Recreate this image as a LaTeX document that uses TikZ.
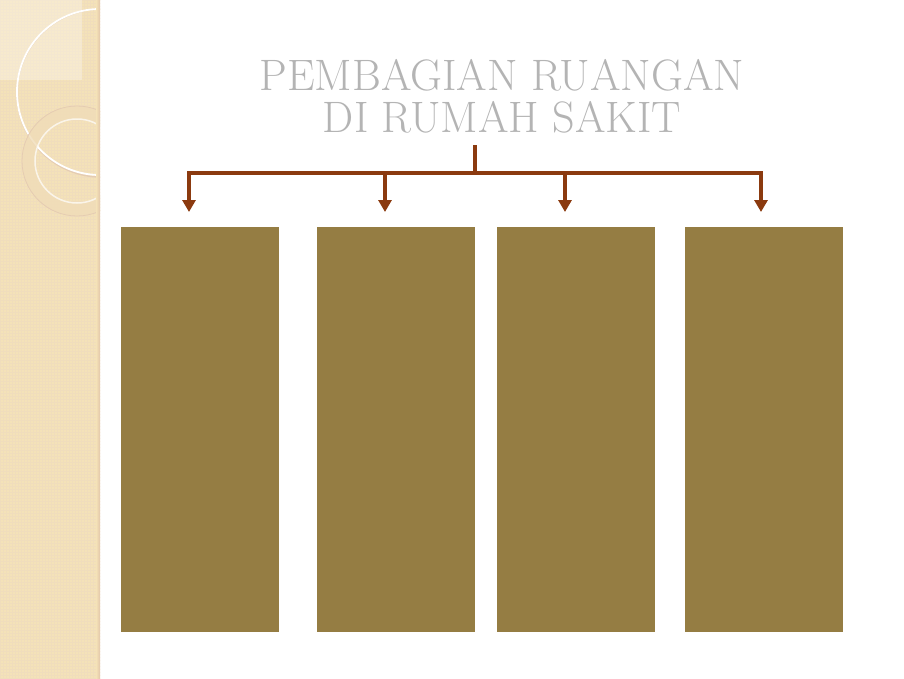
\documentclass[tikz,border=0pt]{standalone}
\usetikzlibrary{arrows.meta,positioning,patterns}
\definecolor{kotak}{HTML}{957D43}
\definecolor{panah}{HTML}{8B3A0F}
\definecolor{pita}{HTML}{F4E2B8}
\definecolor{abu}{HTML}{B4B4B4}

\begin{document}
\begin{tikzpicture}[x=1pt,y=-1pt,
  ruang/.style={fill=kotak, minimum width=158pt, minimum height=405pt, inner sep=0pt, anchor=north west},
  garis/.style={draw=panah, line width=3.4pt},
  ujungpanah/.style={-{Triangle[length=12pt,width=13pt]}}]
  \useasboundingbox (0,0) rectangle (904,678);
  \fill[white] (0,0) rectangle (904,678);
  % strip on the left
  \fill[pita] (0,0) rectangle (100,678);
  \fill[pattern=grid, pattern color=pita!80!brown!70] (0,0) rectangle (100,678);
  \fill[white, opacity=0.3] (0,0) rectangle (82,80);
  \begin{scope}
    \clip (0,0) rectangle (100,678);
    \draw[brown!40, line width=1.4pt] (101,93) circle (84);
    \draw[white, line width=1.8pt] (100,92) circle (83);
    \draw[pita!85!brown!80, opacity=0.8, line width=13pt] (77,161) circle (48.5);
    \draw[white, opacity=0.7, line width=1.5pt] (77,161) circle (42);
    \draw[brown!40, line width=0.8pt] (77,161) circle (55);
  \end{scope}
  \shade[left color=pita, right color=brown!45] (96,0) rectangle (100,678);

  \node[font=\fontsize{44}{42}\selectfont, text=abu, align=center] (judul) at (502,96) {PEMBAGIAN RUANGAN\\DI RUMAH SAKIT};

  \node[ruang] (ruang1) at (121,227) {};
  \node[ruang] (ruang2) at (317,227) {};
  \node[ruang] (ruang3) at (497,227) {};
  \node[ruang] (ruang4) at (685,227) {};

  \coordinate (akar) at (475,145);
  \foreach \x [count=\i] in {189,385,565,761} {
    \coordinate (atas\i) at (\x,173);
    \coordinate (ujung\i) at (\x,212);
  }
  \draw[garis] (akar) -- (akar |- atas1);
  \draw[garis, {Triangle[length=12pt,width=13pt]}-{Triangle[length=12pt,width=13pt]}] (ujung1) -- (atas1) -- (atas4) -- (ujung4);
  \draw[garis, ujungpanah] (atas2) -- (ujung2);
  \draw[garis, ujungpanah] (atas3) -- (ujung3);
\end{tikzpicture}
\end{document}
